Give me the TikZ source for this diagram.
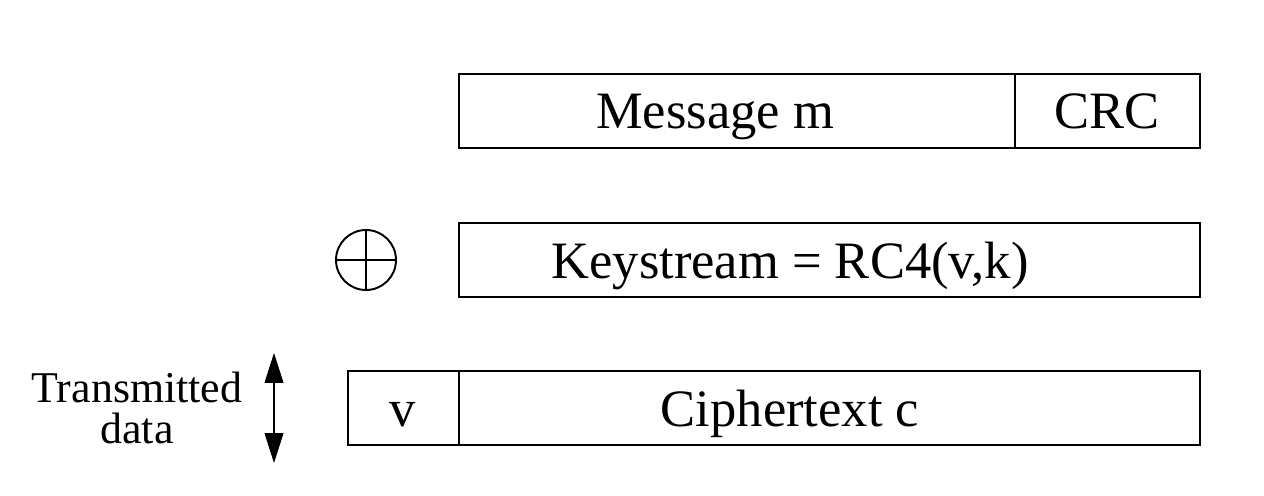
\documentclass[tikz,border=0pt]{standalone}
\usepackage{fontspec}
\setmainfont{Liberation Serif}
\usetikzlibrary{arrows.meta}
\begin{document}
\begin{tikzpicture}[x=0.02cm,y=-0.02cm,
  >={Triangle[length=0.6cm,width=0.38cm]},
  field/.style={draw=black,line width=1pt},
  divide/.style={draw=black,line width=0.6pt},
  lbl/.style={anchor=base,inner sep=0pt,font=\fontsize{29.9}{36}\selectfont}]
  \useasboundingbox (0,0) rectangle (1264,496);

  % packet rows
  \draw[field] (459,74) rectangle (1200,148);
  \draw[divide] (1015,74) -- (1015,148);
  \draw[field] (459,223) rectangle (1200,297);
  \draw[field] (348,371) rectangle (1200,445);
  \draw[divide] (459,371) -- (459,445);

  \node[lbl] (msg) at (715,129) {Message m};
  \node[lbl] (crc) at (1107,129) {CRC};
  \node[lbl] (key) at (790,279) {Keystream = RC4(v,k)};
  \node[lbl] (iv) at (403,426) {v};
  \node[lbl] (ct) at (790,426) {Ciphertext c};

  % xor sign
  \node[circle,draw,line width=1.1pt,inner sep=0pt,outer sep=0pt,minimum size=1.2cm] (xor) at (366,260) {};
  \draw[line width=0.8pt] (xor.north) -- (xor.south) (xor.west) -- (xor.east);

  % transmitted part
  \node[align=center,inner sep=0pt,font=\fontsize{25}{23}\selectfont] (tx) at (137,408) {Transmitted\\data};
  \coordinate (up) at (274,353);
  \coordinate (dn) at (274,463);
  \draw[<->,line width=0.6pt] (up) -- (dn);
\end{tikzpicture}
\end{document}
